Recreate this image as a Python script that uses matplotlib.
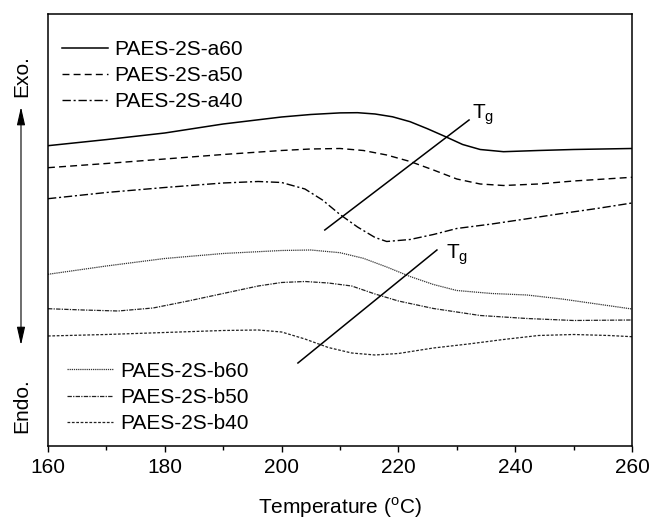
import numpy as np
import matplotlib
matplotlib.use('Agg')
from matplotlib import pyplot as plt

plt.rcParams['font.family'] = ['Liberation Sans', 'DejaVu Sans']
plt.rcParams['mathtext.fontset'] = 'custom'
plt.rcParams['mathtext.rm'] = 'Liberation Sans'

# DSC traces (arbitrary heat flow units, exo up)
t_a60 = [160, 170, 180, 190, 200, 205, 210, 213, 216, 219, 222, 225, 228, 231, 234, 238, 244, 250, 260]
a60 = [300.3, 306.4, 313, 322, 329, 331.5, 333.1, 333.3, 332, 329.2, 324.3, 317.2, 309.5, 301.5, 296.5, 294.3, 295.5, 296.5, 297.5]

t_a50 = [160, 170, 180, 190, 200, 205, 210, 214, 218, 222, 226, 230, 234, 238, 244, 250, 260]
a50 = [278.3, 282.5, 287, 291.5, 295.5, 297, 297.5, 295.5, 291, 284.5, 276, 267, 262, 260.5, 262, 265, 268.7]

t_a40 = [160, 170, 180, 190, 196, 200, 204, 207, 210, 213, 216, 218, 222, 226, 230, 236, 242, 248, 254, 260]
a40 = [247.3, 253.5, 258.5, 263, 264.5, 263.5, 257, 246, 231.5, 219, 208.5, 204.5, 206.5, 211.5, 217.5, 222, 227.2, 232.5, 237.5, 243]

t_b60 = [160, 170, 180, 190, 200, 205, 210, 214, 218, 222, 226, 230, 236, 242, 248, 254, 260]
b60 = [171.7, 180, 187.5, 192.5, 195.5, 196, 193.3, 187.7, 179, 169.5, 161.5, 155.5, 152.5, 151, 147, 142, 137]

t_b50 = [160, 166, 172, 178, 184, 190, 196, 200, 204, 208, 212, 216, 220, 226, 234, 242, 250, 260]
b50 = [137.3, 136, 135, 138, 145, 152.5, 160, 163.5, 164.5, 163, 160, 152, 145, 137.5, 130.5, 127.5, 125.5, 126]

t_b40 = [160, 170, 180, 190, 196, 200, 204, 208, 212, 216, 220, 226, 232, 238, 244, 250, 256, 260]
b40 = [110, 111.5, 113.5, 115.5, 116, 114, 107, 98.5, 93, 91, 92.5, 98, 102, 106.5, 110.5, 111.5, 110.5, 109.3]

# Tg guide lines (T, signal)
tg1_t = [207.4, 232.1]
tg1_y = [216, 326]
tg2_t = [202.8, 226.6]
tg2_y = [83, 196]

fig = plt.figure(figsize=(6.5, 5.22), dpi=100)
ax = fig.add_axes([0.0738, 0.1456, 0.8985, 0.8276])

la60, = ax.plot(t_a60, a60, color='black', lw=1.1, label='PAES-2S-a60')
la50, = ax.plot(t_a50, a50, color='black', lw=1.0, dashes=(5, 3), label='PAES-2S-a50')
la40, = ax.plot(t_a40, a40, color='black', lw=1.0, dashes=(6, 2, 1.5, 2), label='PAES-2S-a40')
lb60, = ax.plot(t_b60, b60, color='#333333', lw=0.9, dashes=(1, 0.7), label='PAES-2S-b60')
lb50, = ax.plot(t_b50, b50, color='#222222', lw=0.9, dashes=(3.5, 1, 1, 1), label='PAES-2S-b50')
lb40, = ax.plot(t_b40, b40, color='#222222', lw=0.9, dashes=(2.2, 1.3), label='PAES-2S-b40')

ax.plot(tg1_t, tg1_y, color='black', lw=1.1)
ax.plot(tg2_t, tg2_y, color='black', lw=1.1)
ax.text(232.6, 328, r'T$_\mathregular{g}$', fontsize=15, ha='left', va='baseline')
ax.text(228.2, 188, r'T$_\mathregular{g}$', fontsize=15, ha='left', va='baseline')

leg1 = ax.legend(handles=[la60, la50, la40], loc='upper left', bbox_to_anchor=(0.024, 0.940),
                 frameon=False, fontsize=15, borderpad=0, borderaxespad=0,
                 handlelength=2.2, handletextpad=0.33, labelspacing=0.34)
ax.add_artist(leg1)
ax.legend(handles=[lb60, lb50, lb40], loc='upper left', bbox_to_anchor=(0.0325, 0.195),
          frameon=False, fontsize=15, borderpad=0, borderaxespad=0,
          handlelength=2.2, handletextpad=0.38, labelspacing=0.34)

ax.set_xlim(160, 260)
ax.set_ylim(0, 432)
ax.set_xticks([160, 180, 200, 220, 240, 260])
ax.set_xticks([170, 190, 210, 230, 250], minor=True)
ax.set_yticks([])
ax.tick_params(axis='x', which='major', direction='out', length=4, width=1, labelsize=15, pad=5)
ax.tick_params(axis='x', which='minor', direction='out', length=3, width=1)
for s in ax.spines.values():
    s.set_linewidth(1.1)
ax.set_xlabel(r'Temperature ($^\mathregular{o}$C)', fontsize=15, labelpad=13)

# Exo / Endo arrow on the left
ax.annotate('', xy=(0.0323, 0.795), xytext=(0.0323, 0.339), xycoords='figure fraction',
            arrowprops=dict(arrowstyle='<|-|>,head_length=1.1,head_width=0.25',
                            color='black', lw=0.8, shrinkA=0, shrinkB=0))
fig.text(0.0338, 0.854, 'Exo.', rotation=90, fontsize=15, ha='center', va='center')
fig.text(0.0338, 0.222, 'Endo.', rotation=90, fontsize=15, ha='center', va='center')

fig.savefig('out.png', dpi=100)
